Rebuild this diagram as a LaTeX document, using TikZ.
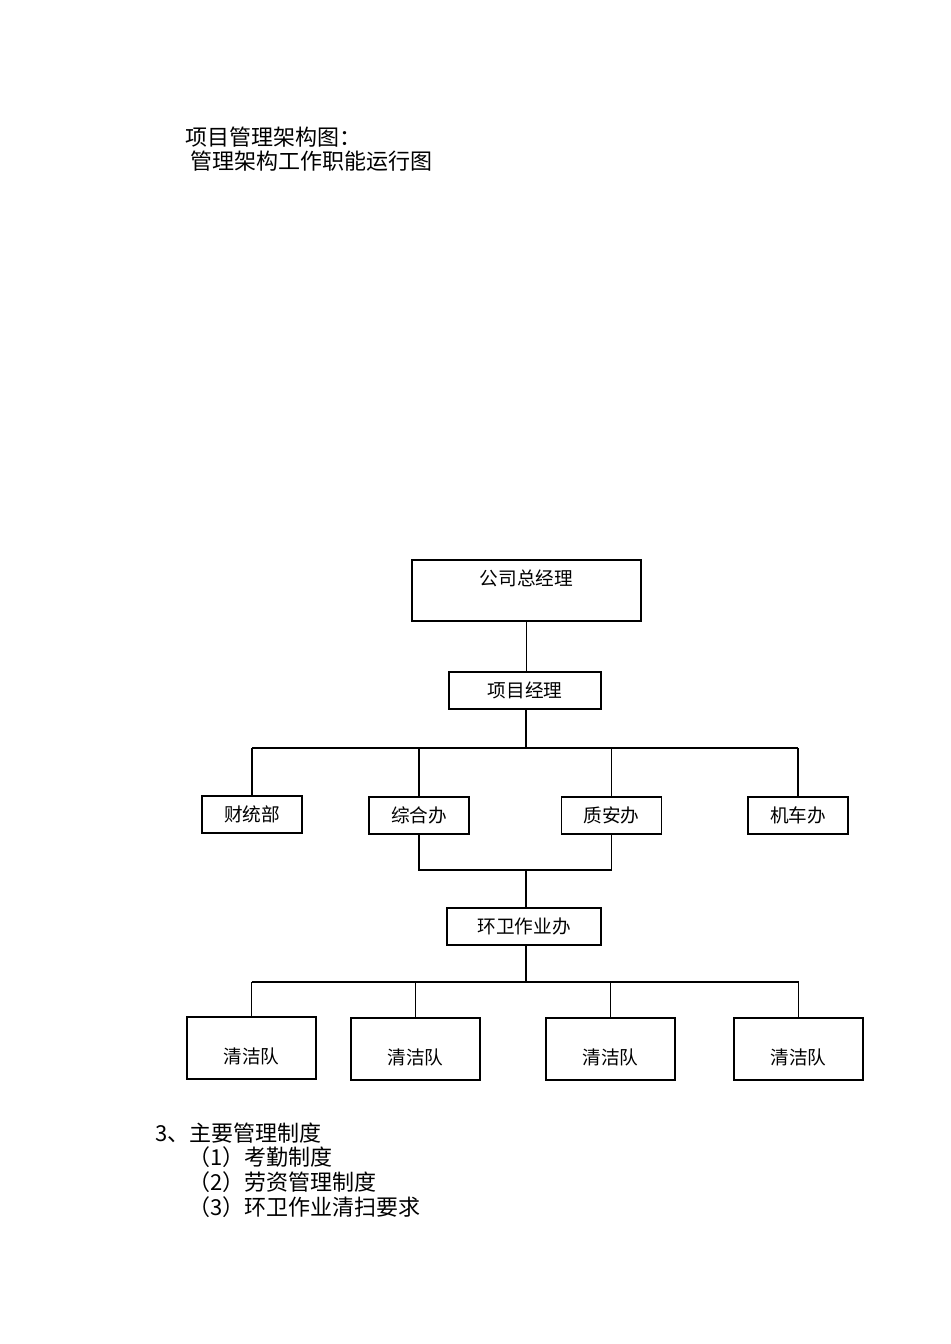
\documentclass[tikz,border=0pt]{standalone}
\usepackage{fontspec}
\newfontfamily\cjk{Noto Sans CJK SC}
\usepackage{tikz}
\usetikzlibrary{positioning}

\begin{document}
\begin{tikzpicture}[x=0.75pt, y=-0.75pt,
			orgnode/.style={rectangle, draw=black, line width=0.9pt, inner sep=0pt, minimum height=27.75pt, font=\cjk\fontsize{14}{16}\selectfont},
			tallnode/.style={orgnode, text height=18.75pt, text depth=27pt},
			teamnode/.style={orgnode, minimum width=96.75pt, text height=34.5pt, text depth=12pt},
			plaintext/.style={anchor=west, inner sep=0pt, font=\cjk\fontsize{16.5}{18}\selectfont},
			wire/.style={draw=black, line width=0.9pt},
			]
			\useasboundingbox (0,0) rectangle (950,1344);

			%Text
			\node[plaintext] (title1) at (185,137) {项目管理架构图：};
			\node[plaintext] (title2) at (190,161) {管理架构工作职能运行图};

			%Nodes
			\node[tallnode, minimum width=171.75pt] (gm) at (526.5,590.5) {公司总经理};
			\node[orgnode, minimum width=114pt]  (pm)   at (525,690.5)   {项目经理};
			\node[orgnode, minimum width=75pt]   (fin)  at (252,814.5)   {财统部};
			\node[orgnode, minimum width=75pt]   (gen)  at (419,815.5)   {综合办};
			\node[orgnode, minimum width=75pt]   (qs)   at (611.5,815.5) {质安办};
			\node[orgnode, minimum width=75pt]   (mach) at (798,815.5)   {机车办};
			\node[orgnode, minimum width=115.5pt] (env) at (524,926.5)   {环卫作业办};

			\node[teamnode] (team1) at (251.5,1048) {清洁队};
			\node[teamnode] (team2) at (415.5,1049) {清洁队};
			\node[teamnode] (team3) at (610.5,1049) {清洁队};
			\node[teamnode] (team4) at (798.5,1049) {清洁队};

			\coordinate (bus1) at (526,748);
			\coordinate (join) at (526,870);
			\coordinate (bus2) at (526,982);

			%Lines
			\draw[wire] (gm.south) -- (gm.south |- pm.north);
			\draw[wire] (bus1 |- pm.south) -- (bus1);
			\draw[wire] (fin.north |- bus1) -- (mach.north |- bus1);
			\draw[wire] (fin.north) -- (fin.north |- bus1);
			\draw[wire] (gen.north) -- (gen.north |- bus1);
			\draw[wire] (qs.north) -- (qs.north |- bus1);
			\draw[wire] (mach.north) -- (mach.north |- bus1);

			\draw[wire] (gen.south) -- (gen.south |- join) -- (qs.south |- join) -- (qs.south);
			\draw[wire] (join) -- (join |- env.north);

			\draw[wire] (bus2 |- env.south) -- (bus2);
			\draw[wire] (team1.north |- bus2) -- (team4.north |- bus2);
			\draw[wire] (team1.north) -- (team1.north |- bus2);
			\draw[wire] (team2.north) -- (team2.north |- bus2);
			\draw[wire] (team3.north) -- (team3.north |- bus2);
			\draw[wire] (team4.north) -- (team4.north |- bus2);

			%List
			\node[plaintext] (rules)  at (155,1133) {3、主要管理制度};
			\node[plaintext] (rule1)  at (188,1157) {（1）考勤制度};
			\node[plaintext] (rule2)  at (188,1182) {（2）劳资管理制度};
			\node[plaintext] (rule3)  at (188,1207) {（3）环卫作业清扫要求};
		\end{tikzpicture}
\end{document}
